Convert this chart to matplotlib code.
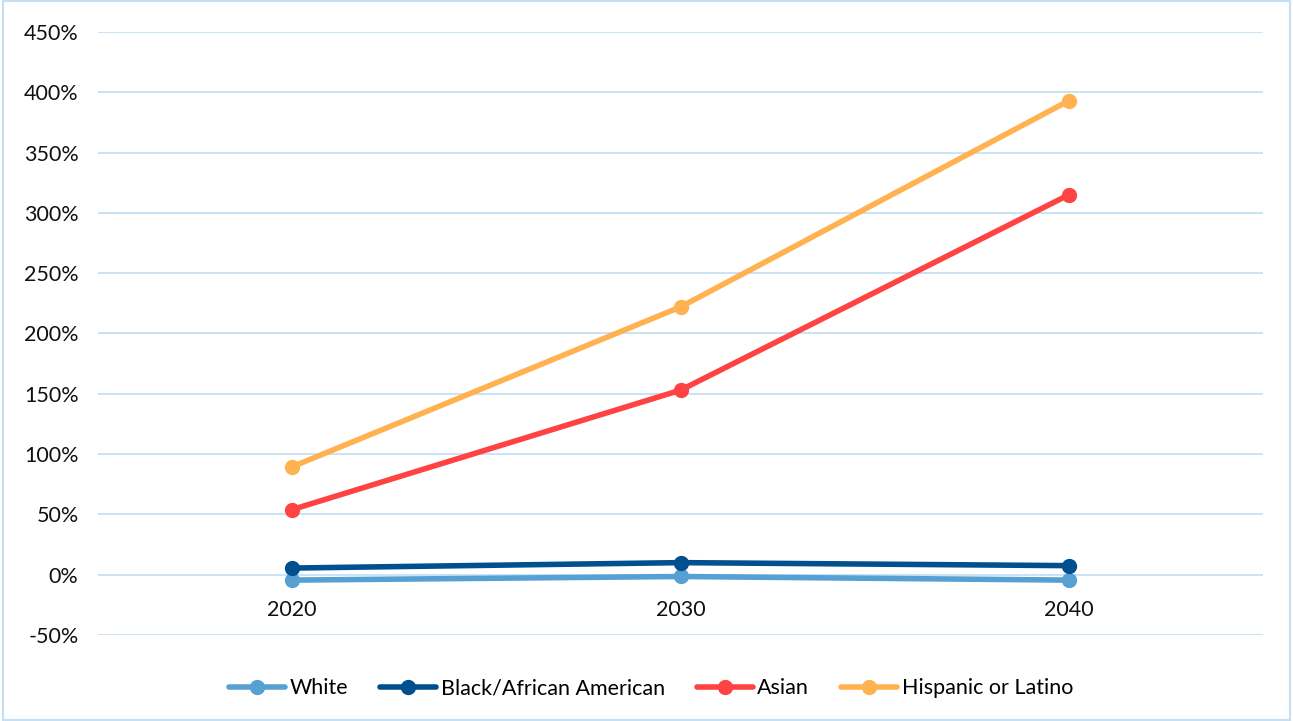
import matplotlib
matplotlib.use('Agg')
import matplotlib.pyplot as plt
from matplotlib.patches import Rectangle
from matplotlib.ticker import FuncFormatter, MultipleLocator

plt.rcParams['font.family'] = ['Lato', 'DejaVu Sans']

years = ['2020', '2030', '2040']
white = [-4.5, -1.5, -4.5]
black = [5.5, 10, 7.5]
asian = [54, 153, 315]
hispanic = [89.5, 222, 393]

series = [
    ('White', white, '#56A0D3'),
    ('Black/African American', black, '#004F8F'),
    ('Asian', asian, '#FF4343'),
    ('Hispanic or Latino', hispanic, '#FFB24F'),
]

fig = plt.figure(figsize=(12.93, 7.21), dpi=100)
ax = fig.add_axes([0.0758, 0.1193, 0.901, 0.8363])

x = list(range(len(years)))
for name, vals, col in series:
    ax.plot(x, vals, color=col, lw=4, marker='o', markersize=10, label=name,
            solid_capstyle='round')

ax.set_xlim(-0.5, 2.5)
ax.set_ylim(-50, 450)
ax.yaxis.set_major_locator(MultipleLocator(50))
ax.yaxis.set_major_formatter(FuncFormatter(lambda v, p: '%d%%' % v))
ax.set_xticks(x)
ax.set_xticklabels(years)
ax.grid(axis='y', color='#C5E0F5', lw=1.3)
ax.set_axisbelow(True)
for s in ax.spines.values():
    s.set_visible(False)
ax.tick_params(length=0, labelsize=15.5, colors='#111111')
ax.tick_params(axis='y', pad=14)

# x labels sit just under the zero line
for lbl in ax.get_xticklabels():
    lbl.set_y(0.066)

ax.legend(loc='upper center', bbox_to_anchor=(0.4747, -0.04), ncol=4, frameon=False,
          fontsize=15.5, handlelength=2.6, handletextpad=0.2, columnspacing=1.5)

fig.patches.append(Rectangle((0.002, 0.002), 0.996, 0.996, transform=fig.transFigure,
                             fill=False, edgecolor='#C5E0F5', lw=1.5))

fig.savefig('out.png', dpi=100)
